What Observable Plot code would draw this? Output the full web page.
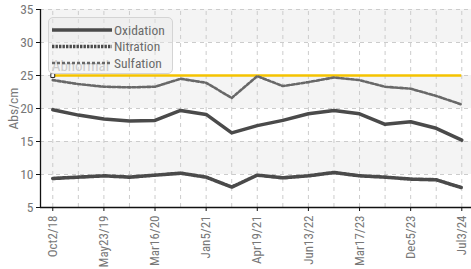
<!DOCTYPE html>
<html><head><meta charset="utf-8">
<script src="https://cdn.jsdelivr.net/npm/d3@7"></script>
<script src="https://cdn.jsdelivr.net/npm/@observablehq/plot@0.6"></script>
<style>
body{margin:0;background:#fff;}
#wrap{position:relative;width:471px;height:269px;font-family:"Roboto Condensed","Liberation Sans Narrow","DejaVu Sans Condensed",Roboto,sans-serif;}
#legend{position:absolute;left:48px;top:17px;width:125px;height:57px;box-sizing:border-box;border:1px solid #d4d4d4;border-radius:5px;background:rgba(232,232,232,0.45);}
#legend svg{position:absolute;left:0;top:0;}
</style></head><body><div id="wrap"></div>
<script>
const tickLabels = ["Oct2/18","May23/19","Mar16/20","Jan5/21","Apr19/21","Jun13/22","Mar17/23","Dec5/23","Jul3/24"];
const oxidation = [19.8,19.0,18.4,18.1,18.2,19.7,19.1,16.3,17.4,18.2,19.2,19.7,19.2,17.6,18.0,17.0,15.2];
const nitration = [9.4,9.6,9.8,9.6,9.9,10.2,9.6,8.1,9.9,9.5,9.8,10.3,9.8,9.6,9.3,9.2,8.0];
const sulfation = [24.3,23.7,23.3,23.2,23.3,24.5,23.9,21.6,24.9,23.4,24.0,24.7,24.3,23.3,23.0,21.9,20.6];
const abnormal = 25;
const abnormalLabel = "Abnormal";
const seriesNames = ["Oxidation","Nitration","Sulfation"];
const yTicks = [5,10,15,20,25,30,35];
const yBands = [[30,35],[20,25],[10,15]];

const styles = {
  Oxidation: {stroke:"#4a4a4a", strokeWidth:3.5, strokeDasharray:null},
  Nitration: {stroke:"#4a4a4a", strokeWidth:3.6, strokeDasharray:"2.4,1.1"},
  Sulfation: {stroke:"#686868", strokeWidth:2.6, strokeDasharray:"3,2"}
};
const seriesData = {Oxidation: oxidation, Nitration: nitration, Sulfation: sulfation};
const idx = d3.range(oxidation.length);
const labelIdx = idx.filter(i => i % 2 === 0);
const xDomain = [-0.48, idx.length - 1 + 0.38];
const font = '"Roboto Condensed","Liberation Sans Narrow","DejaVu Sans Condensed",Roboto,sans-serif';

const lineMarks = seriesNames.map(name => Plot.line(idx, {
  x: i => i, y: i => seriesData[name][i],
  stroke: styles[name].stroke, strokeWidth: styles[name].strokeWidth,
  strokeDasharray: styles[name].strokeDasharray, strokeLinejoin: "round"
}));

const chart = Plot.plot({
  width: 471, height: 269,
  marginTop: 9, marginBottom: 62, marginLeft: 40, marginRight: 0,
  style: {fontFamily: font, fontSize: "12px", color: "#777", background: "transparent"},
  x: {type: "linear", domain: xDomain},
  y: {type: "linear", domain: [5, 35]},
  marks: [
    Plot.rect(yBands, {x1: xDomain[0], x2: xDomain[1], y1: d => d[0], y2: d => d[1], fill: "#f4f4f4"}),
    Plot.ruleY(yTicks, {stroke: "#cccccc", strokeDasharray: "4,4"}),
    Plot.ruleX(idx, {x: i => i, y1: 5, y2: 35, stroke: "#cccccc", strokeDasharray: "4,4"}),
    Plot.text([abnormalLabel], {x: 0, y: abnormal, text: d => d, dy: -9, dx: -1, textAnchor: "start",
      fill: "#b4b4b4", fontSize: 15}),
    Plot.ruleY([abnormal], {x1: 0, x2: idx.length - 1, stroke: "#f5c300", strokeWidth: 2.5}),
    Plot.dot([abnormal], {x: 0, y: d => d, symbol: "square", r: 2.2, fill: "white", stroke: "#222", strokeWidth: 1}),
    ...lineMarks,
    Plot.ruleY([5], {stroke: "#111", strokeWidth: 1.3}),
    Plot.ruleX([xDomain[0]], {y1: 5, y2: 35, stroke: "#111", strokeWidth: 1.3}),
    Plot.axisY({ticks: yTicks, tickSize: 4, tickPadding: 3, stroke: "#111", fill: "#777", fontSize: 13.5,
      label: "Abs/cm", labelAnchor: "center", labelArrow: "none", labelOffset: 32}),
    Plot.axisX({ticks: labelIdx, tickFormat: i => tickLabels[i / 2], tickRotate: -90,
      tickSize: 4, tickPadding: 4, stroke: "#111", fill: "#777", label: null, fontSize: 13})
  ]
});

const wrap = document.getElementById("wrap");
wrap.appendChild(chart);

// legend
const legend = document.createElement("div");
legend.id = "legend";
const ns = "http://www.w3.org/2000/svg";
const svg = document.createElementNS(ns, "svg");
svg.setAttribute("width", 125); svg.setAttribute("height", 57);
seriesNames.forEach((name, k) => {
  const y = 12 + k * 16.5;
  const l = document.createElementNS(ns, "line");
  l.setAttribute("x1", 3); l.setAttribute("x2", 63); l.setAttribute("y1", y); l.setAttribute("y2", y);
  l.setAttribute("stroke", styles[name].stroke); l.setAttribute("stroke-width", styles[name].strokeWidth);
  if (styles[name].strokeDasharray) l.setAttribute("stroke-dasharray", styles[name].strokeDasharray);
  svg.appendChild(l);
  const t = document.createElementNS(ns, "text");
  t.setAttribute("x", 65); t.setAttribute("y", y + 4.5);
  t.setAttribute("fill", "#6a6a6a"); t.setAttribute("font-size", "13.5");
  t.setAttribute("font-family", font);
  t.textContent = name;
  svg.appendChild(t);
});
legend.appendChild(svg);
wrap.appendChild(legend);
</script>
</body></html>
